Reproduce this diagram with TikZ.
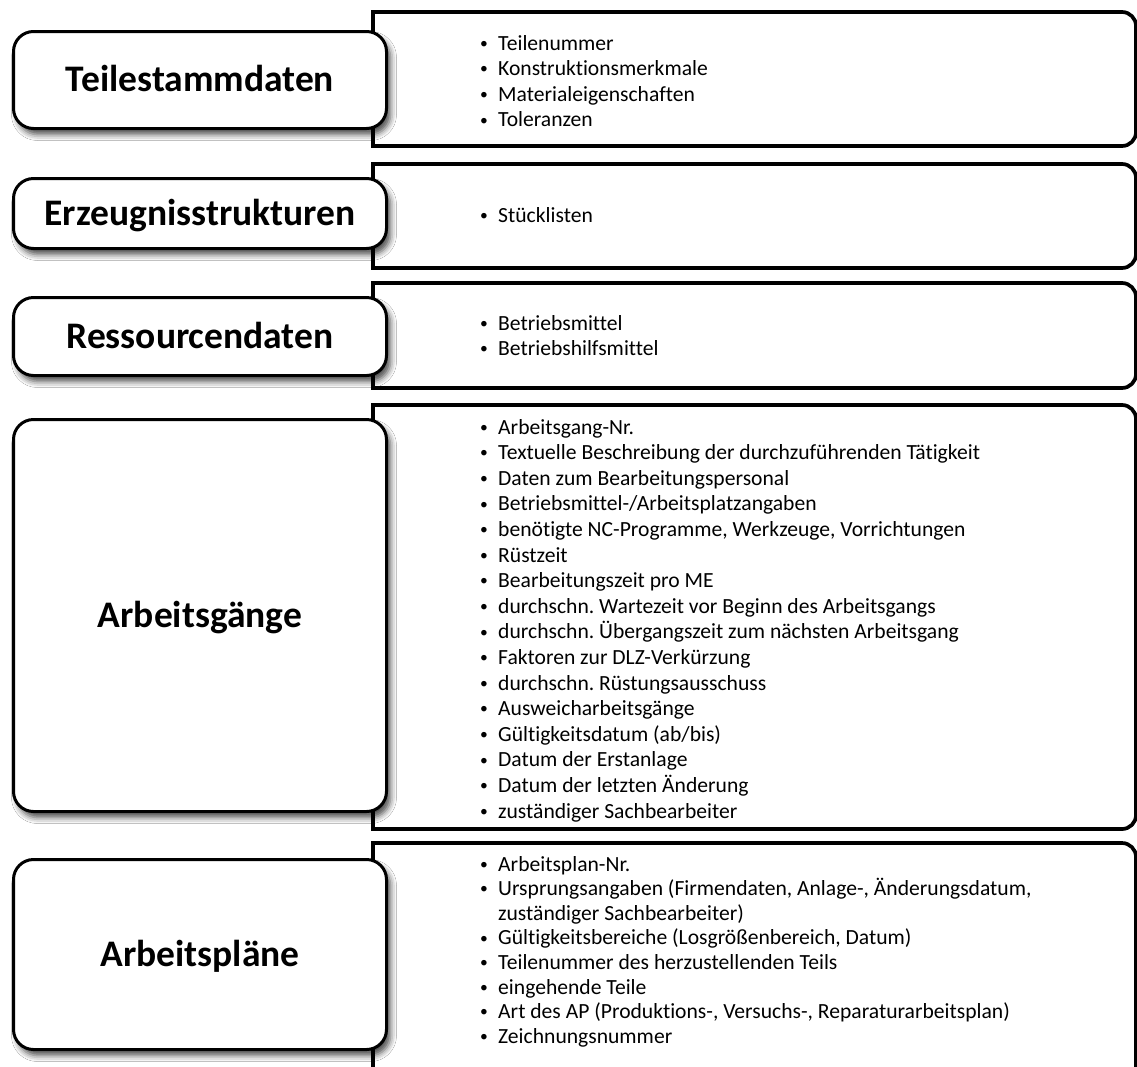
\documentclass[tikz,border=0pt]{standalone}
\usepackage{fontspec}
\setmainfont{Carlito}[Ligatures=NoCommon]
\usetikzlibrary{shadows.blur}

\tikzset{
  panel/.style={draw, line width=3.7pt, fill=white},
  headbox/.style={draw, line width=3pt, fill=white, rounded corners=20pt,
    minimum width=373pt, inner sep=0pt,
    blur shadow={shadow xshift=4pt, shadow yshift=-6pt,
      shadow blur radius=6pt, shadow opacity=70},
    font=\bfseries\fontsize{37.5}{40}\selectfont,
    text height=23.7pt, text depth=0pt},
  listtext/.style={anchor=base west, inner sep=0pt,
    font=\fontsize{21.6}{25.6}\selectfont\frenchspacing},
  listtight/.style={listtext, font=\fontsize{21.6}{24.6}\selectfont\frenchspacing},
}

% small bullet with a fixed indent
\newcommand\itm{\makebox[20pt][l]{\hspace{2pt}\raisebox{1.8pt}{\scalebox{0.72}{\textbullet}}}}
\newcommand\cont{\hspace*{20pt}}

% content panel: square corners on the left, rounded on the right
\newcommand\panelshape[2]{%
  \draw[panel] (373,-#2) -- (373,-#1) -- (1122,-#1)
    arc[start angle=90,end angle=0,radius=14pt] -- (1136,-#2+14)
    arc[start angle=0,end angle=-90,radius=14pt] -- cycle;}

\begin{document}
\begin{tikzpicture}[x=1pt,y=1pt]
\clip (0,0) rectangle (1137,-1066);
\fill[white] (0,0) rectangle (1137,-1066);

% content panels
\panelshape{12}{146}
\panelshape{164}{268}
\panelshape{283}{388}
\panelshape{405}{829}
\panelshape{843}{1080}

% category boxes
\node[headbox, minimum height=97pt]  (teile)  at (200,-80)    {Teilestammdaten};
\node[headbox, minimum height=70pt]  (erz)    at (200,-213.5) {Erzeugnisstrukturen};
\node[headbox, minimum height=78pt]  (res)    at (200,-336.5) {Ressourcendaten};
\node[headbox, minimum height=392pt] (ag)     at (200,-615.5) {Arbeitsgänge};
\node[headbox, minimum height=190pt] (ap)     at (200,-954.5) {Arbeitspläne};

% item lists
\node[listtext] (teileliste) at (478,-50) {\begin{tabular}[t]{@{}l@{}}
\itm Teilenummer\\
\itm Konstruktionsmerkmale\\
\itm Materialeigenschaften\\
\itm Toleranzen
\end{tabular}};

\node[listtext] (erzliste) at (478,-222) {\begin{tabular}[t]{@{}l@{}}
\itm Stücklisten
\end{tabular}};

\node[listtext] (resliste) at (478,-330) {\begin{tabular}[t]{@{}l@{}}
\itm Betriebsmittel\\
\itm Betriebshilfsmittel
\end{tabular}};

\node[listtext] (agliste) at (478,-434) {\begin{tabular}[t]{@{}l@{}}
\itm Arbeitsgang-Nr.\\
\itm Textuelle Beschreibung der durchzuführenden Tätigkeit\\
\itm Daten zum Bearbeitungspersonal\\
\itm Betriebsmittel-/Arbeitsplatzangaben\\
\itm benötigte NC-Programme, Werkzeuge, Vorrichtungen\\
\itm Rüstzeit\\
\itm Bearbeitungszeit pro ME\\
\itm durchschn. Wartezeit vor Beginn des Arbeitsgangs\\
\itm durchschn. Übergangszeit zum nächsten Arbeitsgang\\
\itm Faktoren zur DLZ-Verkürzung\\
\itm durchschn. Rüstungsausschuss\\
\itm Ausweicharbeitsgänge\\
\itm Gültigkeitsdatum (ab/bis)\\
\itm Datum der Erstanlage\\
\itm Datum der letzten Änderung\\
\itm zuständiger Sachbearbeiter
\end{tabular}};

\node[listtight] (apliste) at (478,-871) {\begin{tabular}[t]{@{}l@{}}
\itm Arbeitsplan-Nr.\\
\itm Ursprungsangaben (Firmendaten, Anlage-, Änderungsdatum,\\
\cont zuständiger Sachbearbeiter)\\
\itm Gültigkeitsbereiche (Losgrößenbereich, Datum)\\
\itm Teilenummer des herzustellenden Teils\\
\itm eingehende Teile\\
\itm Art des AP (Produktions-, Versuchs-, Reparaturarbeitsplan)\\
\itm Zeichnungsnummer
\end{tabular}};
\end{tikzpicture}
\end{document}
